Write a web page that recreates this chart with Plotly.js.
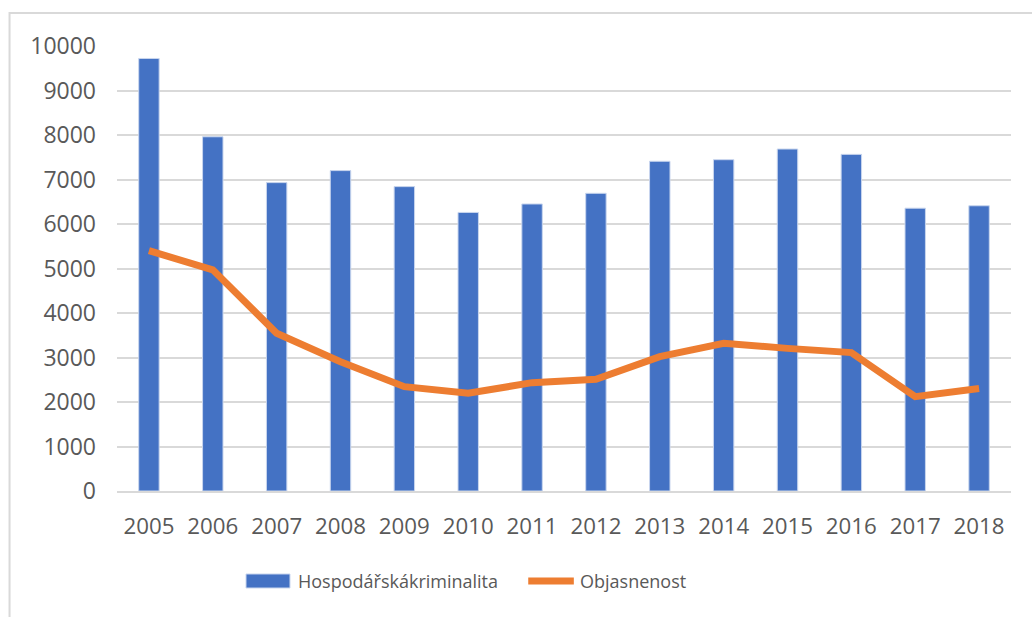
<!DOCTYPE html>
<html>
<head>
<meta charset="utf-8">
<script src="https://cdn.plot.ly/plotly-3.0.1.min.js"></script>
<style>html,body{margin:0;padding:0;background:#fff;}#chart{width:1032px;height:617px;}</style>
</head>
<body>
<div id="chart"></div>
<script>
const years = ["2005","2006","2007","2008","2009","2010","2011","2012","2013","2014","2015","2016","2017","2018"];
const kriminalita = [9720,7960,6930,7200,6840,6260,6450,6690,7410,7445,7685,7565,6355,6410];
const objasnenost = [5400,4970,3545,2905,2345,2195,2435,2510,3020,3320,3205,3110,2120,2305];
const yTicks = [0,1000,2000,3000,4000,5000,6000,7000,8000,9000,10000];
const seriesNames = ["Hospodářskákriminalita","Objasnenost"];

const textColor = "#595959";
const fontFam = "'Open Sans', 'Noto Sans', sans-serif";

const traces = [
  {type:"bar", x:years, y:kriminalita, name:seriesNames[0],
   marker:{color:"#4472C4", line:{color:"#c9d6ee", width:1}}, hoverinfo:"x+y"},
  {type:"scatter", mode:"lines", x:years, y:objasnenost, name:seriesNames[1],
   line:{color:"#ED7D31", width:7, shape:"linear"}, hoverinfo:"x+y"}
];

const layout = {
  width:1032, height:617,
  margin:{l:117, r:21, t:46, b:126},
  paper_bgcolor:"#ffffff", plot_bgcolor:"#ffffff",
  showlegend:false,
  bargap:0.68,
  font:{family:fontFam, color:textColor, size:22},
  xaxis:{type:"category", showgrid:false, zeroline:false, showline:true,
         linecolor:"#d9d9d9", linewidth:2, ticks:"", tickfont:{size:22.3, color:textColor},
         ticklabelstandoff:14},
  yaxis:{range:[0,10000], tickvals:yTicks, ticktext:yTicks.map(String),
         showgrid:true, gridcolor:"#d9d9d9", gridwidth:2, zeroline:false,
         showline:false, ticks:"", tickfont:{size:23, color:textColor},
         ticklabelstandoff:20},
  shapes:[
    {type:"rect", xref:"paper", yref:"paper", x0:-0.1202, x1:1.05, y0:-0.32, y1:1.0742,
     line:{color:"#d9d9d9", width:2}, fillcolor:"rgba(0,0,0,0)", layer:"below"},
    {type:"rect", xref:"paper", yref:"paper", x0:0.1443, x1:0.1935, y0:-0.2180, y1:-0.1865,
     line:{color:"#c9d6ee", width:1}, fillcolor:"#4472C4"},
    {type:"line", xref:"paper", yref:"paper", x0:0.4600, x1:0.5110, y0:-0.2022, y1:-0.2022,
     line:{color:"#ED7D31", width:7}}
  ],
  annotations:[
    {xref:"paper", yref:"paper", x:0.2002, y:-0.2022, xanchor:"left", yanchor:"middle",
     text:seriesNames[0], showarrow:false, font:{size:18, color:textColor, family:fontFam}},
    {xref:"paper", yref:"paper", x:0.5157, y:-0.2022, xanchor:"left", yanchor:"middle",
     text:seriesNames[1], showarrow:false, font:{size:18, color:textColor, family:fontFam}}
  ]
};

Plotly.newPlot("chart", traces, layout, {displayModeBar:false, staticPlot:true});
</script>
</body>
</html>
